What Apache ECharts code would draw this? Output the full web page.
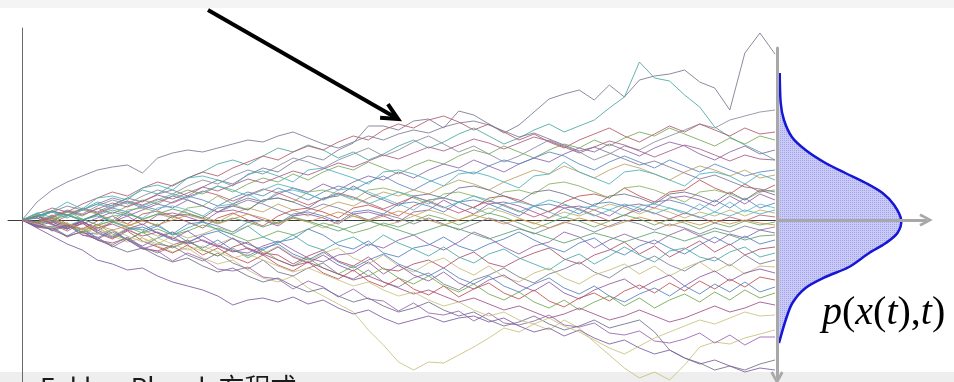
<!DOCTYPE html>
<html>
<head>
<meta charset="utf-8">
<title>Random walks and their density</title>
<script src="https://cdn.jsdelivr.net/npm/echarts@6.0.0/dist/echarts.min.js"></script>
<style>
  html, body { margin: 0; padding: 0; background: #ffffff; }
  #chart { width: 954px; height: 382px; }
</style>
</head>
<body>
<div id="chart"></div>
<script>
// Time steps of the simulated paths
const stepIndex = Array.from({ length: 51 }, (_, i) => i);

// Sample paths x(t), one value per time step
const walk01 = [0,5,-3,4,12,8,15,22,18,26, 30,24,33,40,36,45,52,48,58,64, 60,70,77,94,94,90,99,101,92,109, 105,96,87,95,108,121,126,130,120,135, 123,140,144,146,150,138,132,110,167,187, 166];
const walk02 = [0,3,8,2,10,18,14,22,30,26, 35,42,48,56,60,55,64,72,68,75, 70,62,68,60,66,74,80,72,78,86, 92,84,76,82,90,96,88,94,100,112, 123,158,142,139,125,113,93,83,75,68, 60];
const walk03 = [0,-4,2,-6,-12,-8,-16,-22,-18,-26, -32,-28,-38,-44,-40,-50,-58,-62,-56,-68, -76,-84,-92,-110,-125,-142,-150,-142,-143,-135, -127,-118,-108,-112,-104,-110,-100,-108,-122,-135, -148,-158,-152,-160,-145,-127,-122,-124,-118,-114, -110];
const walk04 = [0,-3,4,10,6,14,20,16,24,30, 26,34,40,36,44,50,46,54,62,58, 52,60,66,72,64,70,78,84,76,68, 74,66,58,64,72,80,74,68,60,66, 74,70,78,84,90,96,92,100,104,108, 110];
const walk05 = [0,6,12,8,16,22,28,24,32,38, 34,42,48,44,52,58,64,60,68,74, 70,78,84,80,90,96,92,100,104,98, 90,96,88,80,86,78,72,80,86,92, 84,78,86,94,88,96,90,84,92,86, 88];
const walk06 = [0,-5,2,8,4,12,6,14,20,16, 24,30,26,34,28,36,42,38,46,40, 48,54,50,58,52,46,54,60,56,64, 70,66,74,68,62,70,76,72,80,74, 82,88,84,92,86,80,74,82,76,84, 80];
const walk07 = [0,4,-2,-8,-4,2,8,4,10,16, 12,20,14,8,16,22,18,26,32,28, 36,30,38,44,40,48,42,50,56,52, 60,54,48,56,62,58,66,72,68,76, 70,64,72,78,74,66,60,68,74,66, 70];
const walk08 = [0,3,9,5,-1,6,12,8,14,10, 18,24,20,14,22,28,24,32,26,20, 28,34,30,38,44,36,30,38,44,50, 46,54,60,56,62,68,64,56,50,58, 64,58,52,60,54,48,56,50,44,48, 50];
const walk09 = [0,-4,-10,-6,-12,-8,-2,-6,0,6, 2,10,4,-2,6,12,8,16,10,4, 12,18,14,22,28,24,30,26,34,40, 36,30,38,44,50,46,54,48,42,50, 56,52,46,40,48,54,50,44,50,42, 45];
const walk10 = [0,7,9,18,11,22,24,20,32,35, 30,42,44,40,34,46,49,44,38,50, 52,47,42,36,48,50,46,40,34,46, 48,44,38,32,44,46,58,48,42,36, 48,50,46,40,34,46,48,44,36,46, 40];
const walk11 = [0,-2,5,-4,-9,-1,4,-4,6,9, 4,-2,-8,2,7,0,-6,4,10,12, 8,2,12,15,10,4,14,20,22,18, 12,22,24,20,14,8,18,24,26,22, 32,24,18,28,30,40,32,26,36,28, 35];
const walk12 = [0,6,-2,8,10,6,0,10,12,8, 2,12,14,24,16,10,20,22,18,28, 30,26,20,30,32,28,22,16,26,28, 24,18,28,30,26,36,38,34,28,22, 32,34,30,24,18,28,30,26,20,28, 30];
const walk13 = [0,-7,2,-8,0,6,-2,8,0,-6, 4,6,2,12,14,10,20,22,18,12, 22,24,34,26,20,14,24,26,22,32, 34,30,24,18,28,30,26,20,14,24, 26,22,16,26,28,24,18,28,20,30, 25];
const walk14 = [0,2,-4,-9,-1,-11,-2,4,-5,5, 7,3,-2,8,10,6,0,-6,4,6, 2,-4,6,8,4,-2,8,10,20,12, 6,16,18,14,8,2,12,14,10,4, 14,16,12,22,24,20,14,24,16,26, 20];
const walk15 = [0,-6,-7,-3,-13,-14,-10,-20,-12,-6, -14,-4,-2,-6,-12,-2,0,-4,6,8, 4,-2,8,10,6,16,18,14,8,18, 20,16,10,4,14,16,12,6,16,18, 14,8,18,20,16,10,20,12,22,12, 17];
const walk16 = [0,7,-1,9,1,-5,4,6,2,12, 14,10,4,14,16,26,18,28,30,26, 20,30,32,28,22,16,10,20,22,18, 12,6,16,18,14,8,2,12,14,10, 4,14,16,12,6,16,8,18,8,16, 12];
const walk17 = [0,-3,-8,-4,-10,-6,0,-4,-10,-16, -12,-18,-14,-8,-12,-6,0,-4,2,-2, -8,-2,4,0,-6,-2,4,10,6,0, 6,12,8,2,-4,2,8,4,10,16, 12,6,12,8,2,8,4,10,4,10, 7];
const walk18 = [0,4,9,5,11,7,13,19,15,21, 17,23,29,25,19,25,31,27,21,15, 21,27,23,17,11,17,23,19,13,7, 13,19,15,9,3,9,15,11,5,-1, 5,11,7,1,7,3,-3,3,-1,5, 3];
const walk19 = [0,-4,0,5,1,-5,-1,-7,-13,-9, -15,-11,-5,-9,-15,-21,-17,-11,-15,-9, -3,-7,-13,-9,-3,-7,-1,5,1,-5, 1,7,3,-3,-9,-3,3,-1,-7,-1, 5,1,-5,1,-3,-9,-3,-7,-1,-5, -2];
const walk20 = [0,3,8,14,10,16,22,18,12,18, 24,20,14,8,14,20,16,10,4,10, 16,12,6,0,6,2,-4,2,-4,-10, -4,2,-2,-8,-14,-8,-2,-6,-12,-6, 0,-4,-10,-4,-8,-14,-8,-12,-6,-10, -7];
const walk21 = [0,-7,-9,-4,-15,-19,-12,-20,-29,-24, -27,-22,-16,-25,-31,-33,-26,-21,-30,-38, -42,-35,-33,-24,-28,-20,-15,-24,-30,-22, -12,-18,-27,-34,-26,-22,-12,-17,-28,-20, -14,-20,-24,-15,-9,-16,-23,-14,-18,-10, -13];
const walk22 = [0,2,-5,-9,-3,-12,-18,-10,-7,-13, -20,-23,-15,-11,-19,-24,-30,-22,-19,-9, -15,-25,-29,-21,-33,-37,-28,-25,-17,-26, -31,-24,-19,-12,-20,-27,-32,-23,-18,-29, -35,-26,-20,-28,-34,-25,-17,-25,-16,-24, -20];
const walk23 = [0,-6,-8,-17,-11,-20,-23,-18,-28,-31, -25,-20,-30,-36,-27,-22,-33,-35,-44,-36, -30,-41,-46,-37,-49,-51,-44,-40,-48,-38, -32,-43,-47,-39,-33,-28,-39,-44,-35,-30, -22,-34,-26,-37,-29,-21,-32,-24,-35,-29, -27];
const walk24 = [0,6,3,-6,0,4,-2,-8,-10,-4, -15,-8,-2,-10,-14,-6,-17,-23,-15,-25, -30,-22,-17,-26,-15,-23,-29,-36,-27,-37, -43,-34,-29,-38,-44,-50,-40,-34,-44,-36, -27,-35,-42,-31,-28,-37,-41,-32,-27,-37, -33];
const walk25 = [0,-2,-11,-6,-9,-19,-25,-17,-27,-33, -26,-35,-41,-33,-43,-49,-40,-52,-56,-48, -43,-54,-59,-50,-62,-67,-58,-53,-64,-70, -60,-55,-48,-57,-63,-54,-49,-42,-52,-58, -48,-43,-36,-45,-51,-42,-37,-46,-35,-44, -40];
const walk26 = [0,5,-2,-5,-14,-7,-16,-8,-18,-24, -16,-26,-31,-24,-18,-28,-34,-26,-36,-42, -33,-28,-38,-44,-35,-46,-52,-43,-38,-48, -55,-46,-57,-62,-53,-48,-58,-64,-55,-50, -44,-54,-46,-56,-48,-42,-52,-44,-54,-46, -47];
const walk27 = [0,-6,-2,-9,-1,-10,-17,-9,-4,-13, -19,-11,-21,-27,-18,-29,-35,-27,-37,-43, -35,-45,-51,-42,-54,-45,-55,-61,-52,-63, -69,-60,-55,-65,-71,-62,-73,-79,-70,-64, -59,-69,-61,-55,-66,-57,-51,-61,-53,-49, -53];
const walk28 = [0,4,-4,-11,-3,-13,-19,-11,-21,-27, -33,-25,-35,-28,-37,-43,-35,-45,-51,-42, -53,-59,-50,-61,-67,-58,-69,-75,-66,-77, -69,-63,-73,-79,-70,-81,-87,-78,-73,-81, -71,-65,-73,-63,-71,-61,-69,-59,-67,-57, -60];
const walk29 = [0,-5,-7,-16,-8,-18,-10,-20,-26,-18, -12,-22,-28,-20,-30,-36,-28,-24,-34,-40, -32,-42,-48,-40,-34,-44,-50,-56,-48,-58, -64,-56,-66,-72,-64,-58,-68,-74,-66,-76, -82,-74,-68,-76,-66,-74,-64,-72,-62,-72, -67];
const walk30 = [0,-2,3,-6,-12,-4,-14,-20,-12,-22, -28,-20,-30,-36,-28,-38,-30,-40,-46,-38, -48,-54,-46,-56,-48,-58,-64,-56,-66,-72, -64,-74,-80,-72,-82,-88,-80,-90,-82,-76, -86,-78,-88,-80,-74,-82,-72,-80,-70,-78, -73];
const walk31 = [0,-7,-9,-5,-15,-17,-27,-19,-29,-31, -41,-33,-39,-49,-51,-47,-57,-59,-69,-61, -67,-77,-69,-79,-81,-91,-83,-93,-95,-91, -101,-93,-103,-105,-101,-95,-105,-107,-103,-113, -115,-111,-121,-123,-119,-113,-123,-115,-125,-117, -117];
const walk32 = [0,-4,-10,-16,-12,-20,-26,-32,-28,-36, -42,-38,-46,-52,-48,-56,-62,-58,-66,-72, -68,-76,-82,-78,-86,-92,-88,-82,-90,-96, -92,-100,-106,-102,-96,-104,-110,-106,-100,-108, -104,-100,-112,-130,-138,-143,-150,-146,-150,-144, -140];
const walk33 = [0,-8,-16,-24,-30,-40,-44,-50,-48,-56, -62,-66,-70,-76,-85,-80,-78,-82,-77,-84, -80,-88,-94,-90,-98,-104,-100,-96,-102,-98, -96,-102,-98,-106,-112,-108,-116,-110,-118,-124, -120,-128,-134,-130,-138,-144,-140,-146,-152,-148, -150];
const walk34 = [0,4,-1,-6,-2,-8,-4,-10,-16,-12, -18,-24,-20,-26,-32,-28,-34,-40,-46,-42, -48,-54,-60,-56,-62,-68,-74,-70,-76,-82, -78,-84,-90,-86,-92,-98,-94,-88,-94,-100, -96,-90,-96,-102,-98,-92,-86,-92,-88,-82, -85];
const walk35 = [0,-4,-8,-3,-9,-14,-10,-16,-22,-18, -24,-30,-26,-32,-38,-34,-40,-46,-52,-48, -54,-60,-66,-62,-70,-76,-72,-80,-86,-82, -90,-96,-92,-100,-104,-98,-106,-112,-120,-128, -134,-126,-118,-112,-106,-100,-104,-98,-92,-96, -95];
const walk36 = [0,3,8,4,10,16,12,18,14,20, 26,22,28,34,30,24,30,36,32,26, 20,26,22,16,22,28,24,18,12,18, 24,20,14,8,14,20,16,10,4,10, 16,12,6,12,8,2,8,4,10,6, 10];
const walk37 = [0,-3,1,-4,-9,-5,-10,-6,-1,-5, 0,5,1,-4,1,6,2,-3,2,-2, 3,8,4,-1,4,9,5,0,-5,0, 5,1,-4,1,-3,-8,-3,2,-2,-7, -2,3,-1,-6,-1,-5,0,-4,0,-3, -5];
const walk38 = [0,4,9,5,0,5,10,6,1,6, 11,7,2,-3,2,-2,-7,-2,3,-1, -6,-11,-6,-1,-5,-10,-15,-10,-5,-9, -14,-19,-14,-9,-13,-18,-23,-18,-13,-17, -22,-17,-12,-16,-21,-16,-11,-15,-20,-16, -15];
const walk39 = [0,18,30,38,44,50,53,55,47,62, 67,70,68,72,76,80,78,84,88,82, 76,72,78,84,80,86,90,87,93,97, 99,95,89,83,87,81,75,69,73,67, 61,55,59,53,47,41,45,39,33,31, 28];
const walk40 = [0,-3,3,9,5,11,17,13,19,25, 21,27,33,29,35,41,37,43,49,45, 51,57,53,59,65,61,67,73,69,75, 81,77,71,77,83,79,73,67,73,79, 75,69,63,69,75,71,65,59,65,61, 60];

const walks = [
  walk01, walk02, walk03, walk04, walk05, walk06, walk07, walk08, walk09, walk10,
  walk11, walk12, walk13, walk14, walk15, walk16, walk17, walk18, walk19, walk20,
  walk21, walk22, walk23, walk24, walk25, walk26, walk27, walk28, walk29, walk30,
  walk31, walk32, walk33, walk34, walk35, walk36, walk37, walk38, walk39, walk40
];

const walkColors = [
  '#77778f', '#4aa6a0', '#c8c07a', '#8a8aa0', '#b05a6a', '#78a858', '#8a64a8', '#5a86c0', '#c0a060', '#4ab0b8',
  '#c0504d', '#88b060', '#707088', '#9a5aa0', '#5a7fc0', '#60b8c8', '#bab070', '#c05a70', '#6aa860', '#80809a',
  '#9060a8', '#4f7fbf', '#b04c68', '#48a8a8', '#7a7a90', '#c4bc78', '#8a58a0', '#c05050', '#5580c0', '#70a850',
  '#9a62b0', '#6e6e88', '#7c5aa0', '#a0508a', '#c8c280', '#50b0c0', '#d0904a', '#58a070', '#7a7a96', '#a85a8a'
];

// Density p(x(t),t) at the final time: level of x and relative density
const densityLevels = [147, 117, 100, 83, 70, 57, 47, 37, 27, 15, 0, -13, -23, -33, -47, -57, -68, -83, -100, -123];
const densityValues = [0.022, 0.03, 0.056, 0.12, 0.23, 0.39, 0.55, 0.715, 0.85, 0.943, 1.0, 0.97, 0.877, 0.742, 0.58, 0.39, 0.23, 0.124, 0.07, 0.016];

// Arrow annotation, in data coordinates of the path panel
const arrowTail = [12.35, 210];
const arrowTip = [24.97, 101];

const chart = echarts.init(document.getElementById('chart'), null, { renderer: 'canvas' });

// fine dotted texture for the density area
const tex = document.createElement('canvas');
tex.width = 2; tex.height = 2;
const tctx = tex.getContext('2d');
tctx.fillStyle = '#cacaf7';
tctx.fillRect(0, 0, 2, 2);
tctx.fillStyle = '#a4a4ec';
tctx.fillRect(0, 0, 1, 1);
const densityFill = { image: tex, repeat: 'repeat' };

// open chevron used as the arrow head of the grey axes
const chevron = 'path://M6.5,0L13,12L10.5,13.5L6.5,5L2.5,13.5L0,12Z';

const hidden = { axisTick: { show: false }, axisLabel: { show: false }, splitLine: { show: false } };

const walkSeries = walks.map((w, k) => ({
  type: 'line',
  xAxisIndex: 0,
  yAxisIndex: 0,
  data: w.map((v, i) => [stepIndex[i], v]),
  symbol: 'none',
  silent: true,
  z: 2,
  lineStyle: { width: 1, color: walkColors[k], opacity: 0.85 }
}));

const densitySeries = {
  type: 'custom',
  coordinateSystem: 'cartesian2d',
  xAxisIndex: 1,
  yAxisIndex: 1,
  silent: true,
  z: 2,
  data: [[0, 0]],
  renderItem: function (params, api) {
    const pts = densityLevels.map((lv, i) => api.coord([densityValues[i], lv]));
    return {
      type: 'group',
      children: [
        { type: 'polygon', shape: { points: pts, smooth: 0.3 }, style: { fill: densityFill, stroke: null } },
        { type: 'polyline', shape: { points: pts, smooth: 0.3 }, style: { fill: null, stroke: '#1616d6', lineWidth: 2.5 } }
      ]
    };
  }
};

chart.setOption({
  animation: false,
  backgroundColor: '#ffffff',
  grid: [
    { left: 8, right: 176, top: 28, bottom: 0 },
    { left: 777, right: 28, top: 48, bottom: 4 }
  ],
  xAxis: [
    Object.assign({ gridIndex: 0, type: 'value', min: -0.93, max: 50.2,
      axisLine: { show: true, onZero: true, lineStyle: { color: '#3c3c3c', width: 1 } } }, hidden),
    Object.assign({ gridIndex: 1, type: 'value', min: 0, max: 1.2, z: 5,
      axisLine: { show: true, onZero: true, onZeroAxisIndex: 1, symbol: ['none', chevron], symbolSize: [13, 13.5],
        lineStyle: { color: '#a8a8a8', width: 3 } } }, hidden)
  ],
  yAxis: [
    Object.assign({ gridIndex: 0, type: 'value', min: -162, max: 192,
      axisLine: { show: true, onZero: true, lineStyle: { color: '#6a6a6a', width: 1 } } }, hidden),
    Object.assign({ gridIndex: 1, type: 'value', min: -158, max: 172, axisLine: { show: false } }, hidden),
    // grey time axis of the density panel, arrow pointing down
    Object.assign({ gridIndex: 1, type: 'value', min: 0, max: 1, position: 'left', z: 5,
      axisLine: { show: true, onZero: false, symbol: [chevron, 'none'], symbolSize: [13, 13.5],
        lineStyle: { color: '#a8a8a8', width: 3 } } }, hidden)
  ],
  series: walkSeries.concat([densitySeries])
});

// arrow pointing at the highest path
const tip = chart.convertToPixel({ gridIndex: 0 }, arrowTip);
const tail = chart.convertToPixel({ gridIndex: 0 }, arrowTail);
const back = Math.atan2(tail[1] - tip[1], tail[0] - tip[0]);
const armLen = 18, spread = 0.45;
const armA = [tip[0] + armLen * Math.cos(back + spread), tip[1] + armLen * Math.sin(back + spread)];
const armB = [tip[0] + armLen * Math.cos(back - spread), tip[1] + armLen * Math.sin(back - spread)];

const serif = '"Liberation Serif", "Times New Roman", serif';

chart.setOption({
  graphic: [
    { type: 'rect', z: -10, shape: { x: 0, y: 0, width: 954, height: 8 }, style: { fill: '#f4f4f4' } },
    { type: 'rect', z: -10, shape: { x: 0, y: 372, width: 954, height: 10 }, style: { fill: '#eeeeee' } },
    { type: 'text', z: 10, x: 40, y: 374,
      style: { text: 'Fokker-Planck 方程式', fontSize: 26, fontFamily: '"Noto Sans CJK SC", "Noto Sans", sans-serif',
        fill: '#1a1a1a', align: 'left', verticalAlign: 'top' } },
    { type: 'line', z: 20, shape: { x1: tail[0], y1: tail[1], x2: tip[0] - 3 * Math.cos(back + Math.PI), y2: tip[1] - 3 * Math.sin(back + Math.PI) },
      style: { stroke: '#000000', lineWidth: 4 } },
    { type: 'polyline', z: 20, shape: { points: [armA, tip, armB] },
      style: { stroke: '#000000', lineWidth: 4, fill: null, lineJoin: 'miter' } },
    { type: 'text', z: 20, x: 822, y: 313,
      style: {
        text: '{i|p}{n|(}{i|x}{n|(}{i|t}{n|),}{i|t}{n|)}',
        align: 'left', verticalAlign: 'middle',
        rich: {
          i: { fontFamily: serif, fontSize: 40, fontStyle: 'italic', fill: '#000000' },
          n: { fontFamily: serif, fontSize: 40, fontStyle: 'normal', fill: '#000000' }
        }
      } }
  ]
});
</script>
</body>
</html>
